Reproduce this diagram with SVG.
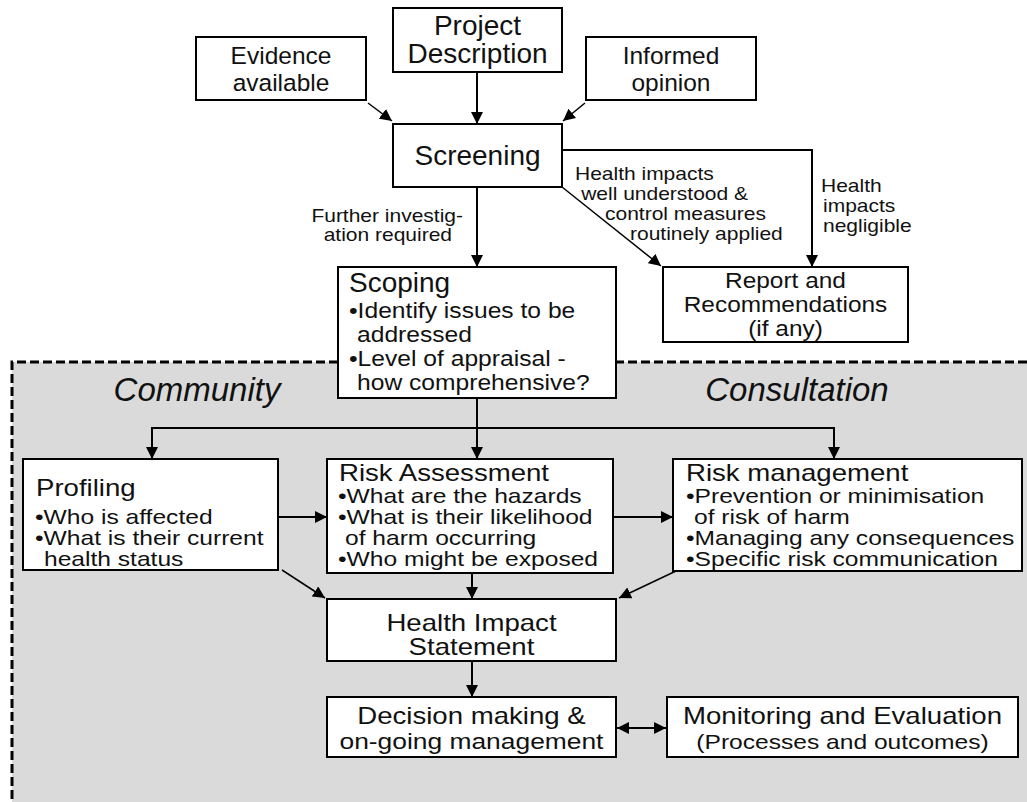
<svg xmlns="http://www.w3.org/2000/svg" width="1027" height="802" viewBox="0 0 1027 802">
<defs>
<marker id="ah" markerUnits="userSpaceOnUse" viewBox="0 0 12 12" markerWidth="12" markerHeight="12" refX="12" refY="6" orient="auto-start-reverse"><path d="M0,0 L12,6 L0,12 z" fill="#000"/></marker>
</defs>
<style>
.box{fill:#fff;stroke:#000;stroke-width:2}
.t{font-family:"Liberation Sans",Arial,sans-serif;fill:#111}
.c{text-anchor:middle}
.e{text-anchor:end}
.top{font-size:24.5px}
.ttl0{font-size:28px}
.sx{transform-box:fill-box;transform-origin:0% 50%;transform:scaleX(1.2)}
.sxc{transform-box:fill-box;transform-origin:50% 50%;transform:scaleX(1.2)}
.sxe{transform-box:fill-box;transform-origin:100% 50%;transform:scaleX(1.2)}
.sx2{transform-box:fill-box;transform-origin:0% 50%;transform:scaleX(1.12)}
.sxc2{transform-box:fill-box;transform-origin:50% 50%;transform:scaleX(1.11)}
.ttl{font-size:23px}
.b{font-size:20.5px}
.b2{font-size:22px}
.big{font-size:23px}
.lbl{font-size:17.5px}
.it{font-size:33px;font-style:italic}
.con{fill:none;stroke:#000;stroke-width:2}
.thin{fill:none;stroke:#000;stroke-width:1.5}
.arr{marker-end:url(#ah)}
</style>
<rect x="0" y="0" width="1027" height="802" fill="#fff"/>
<g id="consultation-zone">
<rect x="12" y="362" width="1015" height="440" fill="#dadada"/>
<path d="M1027,362 H12 V802" fill="none" stroke="#000" stroke-width="3" stroke-dasharray="9 4"/>
<text x="197" y="401" class="t c it">Community</text>
<text x="797" y="401" class="t c it">Consultation</text>
</g>
<g id="evidence">
<rect x="196" y="37" width="170" height="63" class="box"/>
<text x="281" y="64" class="t c top">Evidence</text>
<text x="281" y="91" class="t c top">available</text>
</g>
<g id="project">
<rect x="393" y="8" width="169" height="64" class="box"/>
<text x="477.5" y="35" class="t c ttl0">Project</text>
<text x="477.5" y="63" class="t c ttl0">Description</text>
</g>
<g id="informed">
<rect x="586" y="37" width="170" height="63" class="box"/>
<text x="671" y="64" class="t c top">Informed</text>
<text x="671" y="91" class="t c top">opinion</text>
</g>
<g id="screening">
<rect x="393" y="124" width="169" height="63" class="box"/>
<text x="477.5" y="165" class="t c ttl0">Screening</text>
</g>
<g id="report">
<rect x="663" y="267" width="245" height="75" class="box"/>
<text x="785.5" y="288" class="t c b2 sxc2">Report and</text>
<text x="785.5" y="312" class="t c b2 sxc2">Recommendations</text>
<text x="785.5" y="336" class="t c b2 sxc2">(if any)</text>
</g>
<g id="scoping">
<rect x="338" y="267" width="278" height="131" class="box"/>
<text x="349" y="292" class="t ttl0">Scoping</text>
<text x="349" y="318" class="t b2 sx2">•Identify issues to be</text>
<text x="357" y="342" class="t b2 sx2">addressed</text>
<text x="349" y="366" class="t b2 sx2">•Level of appraisal -</text>
<text x="357" y="390" class="t b2 sx2">how comprehensive?</text>
</g>
<g id="profiling">
<rect x="23" y="459" width="255" height="111" class="box"/>
<text x="36" y="496" class="t ttl sx">Profiling</text>
<text x="35" y="524" class="t b sx">•Who is affected</text>
<text x="35" y="545" class="t b sx">•What is their current</text>
<text x="44" y="566" class="t b sx">health status</text>
</g>
<g id="risk-assessment">
<rect x="327" y="459" width="286" height="114" class="box"/>
<text x="339" y="481" class="t ttl sx">Risk Assessment</text>
<text x="338" y="503" class="t b sx">•What are the hazards</text>
<text x="338" y="524" class="t b sx">•What is their likelihood</text>
<text x="345" y="545" class="t b sx">of harm occurring</text>
<text x="338" y="566" class="t b sx">•Who might be exposed</text>
</g>
<g id="risk-management">
<rect x="673" y="459" width="349" height="112" class="box"/>
<text x="686" y="481" class="t ttl sx">Risk management</text>
<text x="686" y="503" class="t b sx">•Prevention or minimisation</text>
<text x="694" y="524" class="t b sx">of risk of harm</text>
<text x="686" y="545" class="t b sx">•Managing any consequences</text>
<text x="686" y="566" class="t b sx">•Specific risk communication</text>
</g>
<g id="health-impact-statement">
<rect x="327" y="599" width="289" height="62" class="box"/>
<text x="471.5" y="631" class="t c big sxc">Health Impact</text>
<text x="471.5" y="655" class="t c big sxc">Statement</text>
</g>
<g id="decision">
<rect x="327" y="697" width="289" height="60" class="box"/>
<text x="471.5" y="724" class="t c big sxc">Decision making &amp;</text>
<text x="471.5" y="749" class="t c sxc" font-size="22">on-going management</text>
</g>
<g id="monitoring">
<rect x="667" y="697" width="351" height="60" class="box"/>
<text x="842.5" y="724" class="t c big sxc">Monitoring and Evaluation</text>
<text x="842.5" y="749" class="t c sxc" font-size="20.5">(Processes and outcomes)</text>
</g>
<g id="connectors">
<path d="M368,103 L392,121" class="thin arr"/>
<path d="M477,72 V124" class="con arr"/>
<path d="M585,103 L563,121" class="thin arr"/>
<path d="M562,150 H812 V267" class="con arr"/>
<path d="M562,187 L661,266" class="thin arr"/>
<path d="M477,187 V267" class="con arr"/>
<path d="M477,398 V459" class="con arr"/>
<path d="M477,428 H152 V459" class="con arr"/>
<path d="M477,428 H834 V459" class="con arr"/>
<path d="M278,517 H327" class="con arr"/>
<path d="M613,517 H673" class="con arr"/>
<path d="M282,570 L325,598" class="thin arr"/>
<path d="M472,573 V599" class="con arr"/>
<path d="M676,571 L619,598" class="thin arr"/>
<path d="M472,661 V697" class="con arr"/>
<path d="M617,728 H666" class="con" marker-start="url(#ah)" marker-end="url(#ah)"/>
<text x="463" y="222" class="t e lbl sxe">Further investig-</text>
<text x="452" y="241" class="t e lbl sxe">ation required</text>
<text x="575" y="180" class="t lbl sx">Health impacts</text>
<text x="581" y="200" class="t lbl sx">well understood &amp;</text>
<text x="605" y="220" class="t lbl sx">control measures</text>
<text x="630" y="240" class="t lbl sx">routinely applied</text>
<text x="821" y="192" class="t lbl sx">Health</text>
<text x="823" y="212" class="t lbl sx">impacts</text>
<text x="823" y="232" class="t lbl sx">negligible</text>
</g>
</svg>
